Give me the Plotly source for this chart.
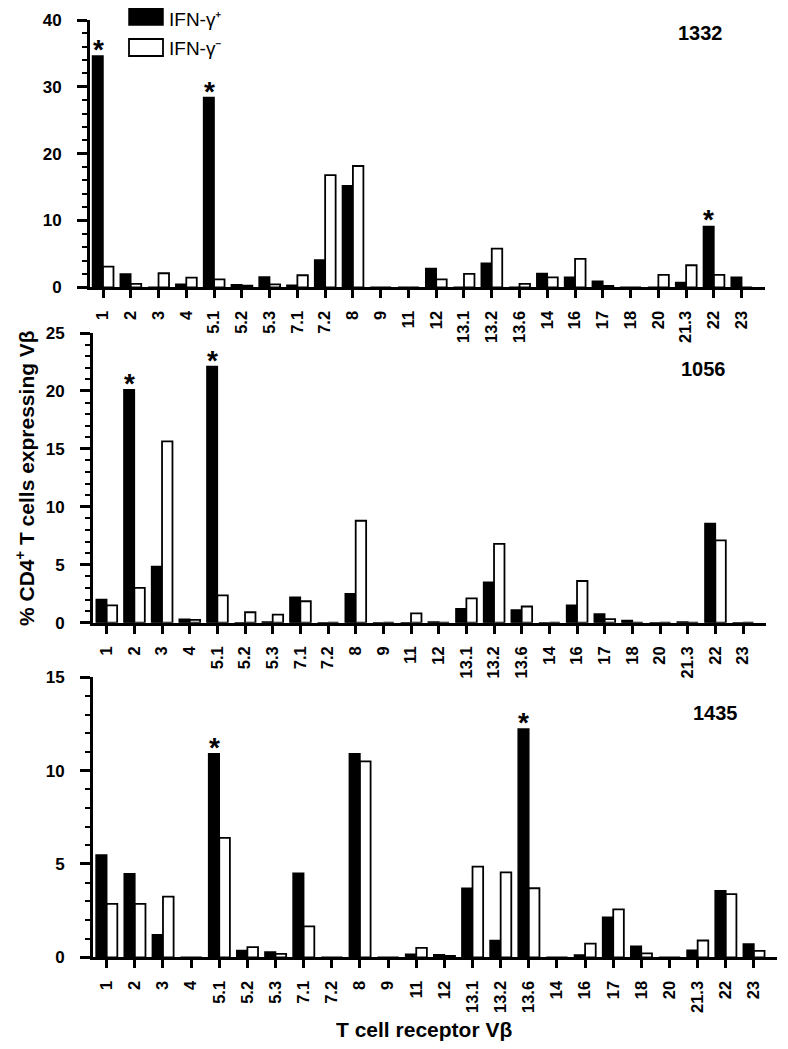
import plotly.graph_objects as go

# the page body adds an 8px margin, so the figure is drawn 16px smaller
OFF = 8
W, H = 788 - 2 * OFF, 1049 - 2 * OFF

vb_families = ["1", "2", "3", "4", "5.1", "5.2", "5.3", "7.1", "7.2", "8", "9", "11",
               "12", "13.1", "13.2", "13.6", "14", "16", "17", "18", "20", "21.3", "22", "23"]

# % CD4+ T cells expressing each Vbeta, per donor
ifn_pos_1332 = [34.6, 2.0, 0, 0.45, 28.4, 0.4, 1.55, 0.3, 4.1, 15.2, 0, 0,
                2.8, 0, 3.6, 0, 2.05, 1.5, 0.9, 0, 0, 0.7, 9.1, 1.5]
ifn_neg_1332 = [3.1, 0.5, 2.1, 1.45, 1.2, 0.25, 0.45, 1.8, 16.8, 18.15, 0, 0,
                1.2, 2.0, 5.8, 0.5, 1.5, 4.25, 0.2, 0, 1.85, 3.3, 1.85, 0]

ifn_pos_1056 = [2.0, 20.1, 4.85, 0.3, 22.1, 0, 0.05, 2.2, 0, 2.5, 0, 0,
                0.05, 1.2, 3.5, 1.1, 0, 1.5, 0.75, 0.2, 0, 0.05, 8.55, 0]
ifn_neg_1056 = [1.5, 3.0, 15.65, 0.25, 2.35, 0.9, 0.7, 1.85, 0, 8.8, 0, 0.8,
                0, 2.1, 6.8, 1.4, 0, 3.6, 0.3, 0, 0, 0, 7.1, 0]

ifn_pos_1435 = [5.48, 4.48, 1.21, 0, 10.9, 0.36, 0.29, 4.5, 0, 10.9, 0, 0.16,
                0.14, 3.7, 0.9, 12.23, 0, 0.12, 2.14, 0.59, 0, 0.38, 3.57, 0.71]
ifn_neg_1435 = [2.86, 2.86, 3.25, 0, 6.4, 0.55, 0.18, 1.66, 0, 10.5, 0, 0.5,
                0.07, 4.86, 4.55, 3.7, 0, 0.73, 2.57, 0.21, 0, 0.9, 3.38, 0.34]

signif_1332 = ["1", "5.1", "22"]
signif_1056 = ["2", "5.1"]
signif_1435 = ["5.1", "13.6"]

donors = ["1332", "1056", "1435"]
y_max = [40, 25, 15]
y_dtick = [10, 5, 5]
y_minor = [2, 1, 1]

legend_labels = ["IFN-γ⁺", "IFN-γ⁻"]
y_title = "% CD4<sup>+</sup> T cells expressing Vβ"
x_title = "T cell receptor Vβ"

FONT = "Arial, Liberation Sans, sans-serif"


def px(x):
    return (x - OFF) / W


def py(y):
    return 1 - (y - OFF) / H


# pixel geometry of each panel: (x_left, x_right, y_zero, y_top, x range)
panels = [
    (90, 765, 287.3, 20.0, [-0.468, 23.84]),
    (93, 766, 622.7, 333.0, [-0.495, 23.83]),
    (93, 777, 957.3, 677.3, [-0.487, 23.82]),
]
data = [
    (ifn_pos_1332, ifn_neg_1332, signif_1332),
    (ifn_pos_1056, ifn_neg_1056, signif_1056),
    (ifn_pos_1435, ifn_neg_1435, signif_1435),
]
label_pos = [(700, 33), (703, 369), (715, 713)]

fig = go.Figure()
annotations = []

for i, ((x0, x1, yz, yt, xr), (pos, neg, sig)) in enumerate(zip(panels, data)):
    n = "" if i == 0 else str(i + 1)
    xa, ya = "x" + n, "y" + n

    fig.add_trace(go.Bar(
        x=vb_families, y=pos, name="IFN-γ+",
        marker=dict(color="black", line=dict(color="black", width=1.5)),
        xaxis=xa, yaxis=ya, showlegend=False,
    ))
    fig.add_trace(go.Bar(
        x=vb_families, y=neg, name="IFN-γ-",
        marker=dict(color="white", line=dict(color="black", width=1.8)),
        xaxis=xa, yaxis=ya, showlegend=False,
    ))

    fig.update_layout(**{
        "xaxis" + n: dict(
            domain=[px(x0), px(x1)], anchor=ya, type="category",
            range=xr, showline=True, linecolor="black", linewidth=3,
            ticks="outside", ticklen=8, tickwidth=3, tickcolor="black",
            tickangle=-90, ticklabelstandoff=6, automargin=False,
            tickfont=dict(family=FONT, size=16.5, color="black", weight="bold"),
            showgrid=False, zeroline=False,
        ),
        "yaxis" + n: dict(
            domain=[py(yz), py(yt)], anchor=xa,
            range=[0, y_max[i]], dtick=y_dtick[i], automargin=False,
            showline=True, linecolor="black", linewidth=3,
            ticks="outside", ticklen=10, tickwidth=2.5, tickcolor="black",
            minor=dict(dtick=y_minor[i], ticks="outside", ticklen=5,
                       tickwidth=2, tickcolor="black"),
            ticklabelstandoff=12,
            tickfont=dict(family=FONT, size=17, color="black", weight="bold"),
            showgrid=False, zeroline=False,
        ),
    })

    # significance asterisks above IFN-γ+ bars
    for cat in sig:
        k = vb_families.index(cat)
        annotations.append(dict(
            x=k, y=pos[k], xref=xa, yref=ya,
            text="*", showarrow=False, xanchor="center", yanchor="bottom",
            xshift=-5, yshift=-11,
            font=dict(family=FONT, size=28, color="black", weight="bold"),
        ))

    lx, ly = label_pos[i]
    annotations.append(dict(
        x=px(lx), y=py(ly), xref="paper", yref="paper",
        text=donors[i], showarrow=False, xanchor="center", yanchor="middle",
        font=dict(family=FONT, size=20, color="black", weight="bold"),
    ))

# manual legend with large swatches
shapes = [
    dict(type="rect", xref="paper", yref="paper",
         x0=px(129), x1=px(163), y0=py(25), y1=py(7),
         fillcolor="black", line=dict(color="black", width=1.5)),
    dict(type="rect", xref="paper", yref="paper",
         x0=px(129), x1=px(163), y0=py(56), y1=py(39),
         fillcolor="white", line=dict(color="black", width=1.8)),
]
for lab, yc in zip(legend_labels, [19, 48.5]):
    annotations.append(dict(
        x=px(167), y=py(yc), xref="paper", yref="paper",
        text=lab, showarrow=False, xanchor="left", yanchor="middle",
        font=dict(family=FONT, size=19, color="black"),
    ))

annotations.append(dict(
    x=px(25), y=py(478), xref="paper", yref="paper",
    text=y_title, textangle=-90, showarrow=False,
    xanchor="center", yanchor="middle",
    font=dict(family=FONT, size=21, color="black", weight="bold"),
))
annotations.append(dict(
    x=px(424), y=py(1029), xref="paper", yref="paper",
    text=x_title, showarrow=False, xanchor="center", yanchor="middle",
    font=dict(family=FONT, size=21, color="black", weight="bold"),
))

fig.update_layout(
    width=W, height=H, autosize=False,
    margin=dict(l=0, r=0, t=0, b=0, pad=0),
    paper_bgcolor="white", plot_bgcolor="white",
    barmode="group", bargap=0.245, bargroupgap=0,
    annotations=annotations, shapes=shapes,
    font=dict(family=FONT, color="black"),
)

fig.write_html("out.html")
